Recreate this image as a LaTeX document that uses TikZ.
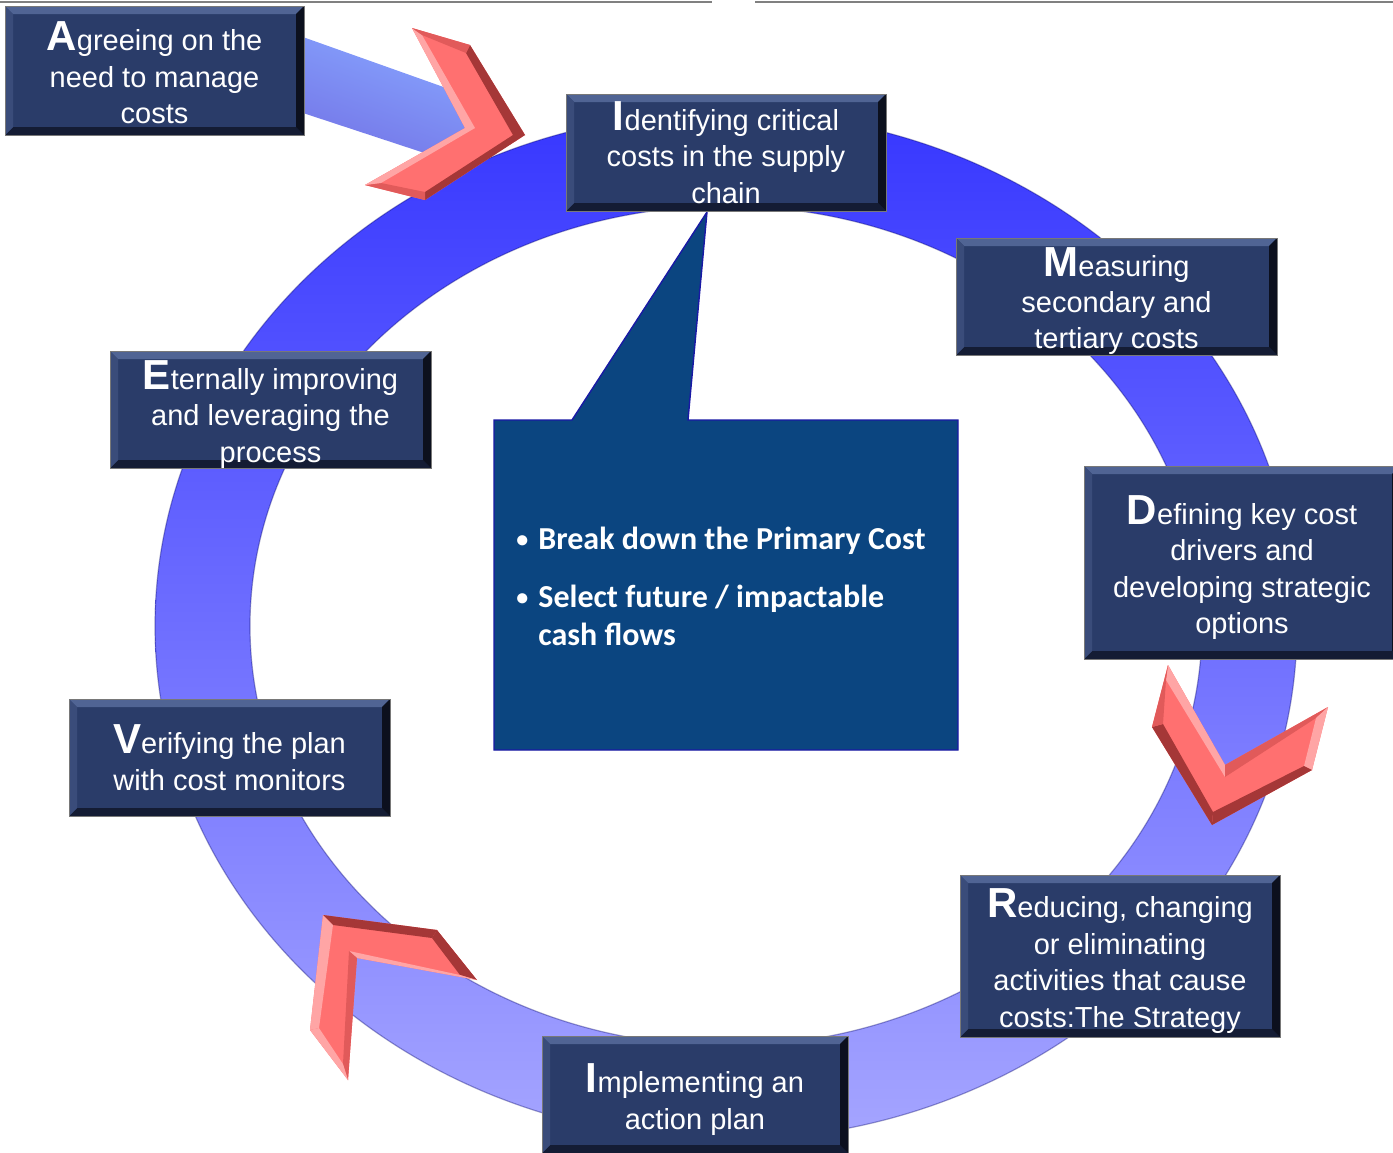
\documentclass[tikz,border=0pt]{standalone}
\usepackage{fontspec}
\setmainfont{Liberation Sans}
\newfontfamily\calib{Carlito}
\usetikzlibrary{calc}
\definecolor{navy}{RGB}{42,60,105}
\definecolor{bevT}{RGB}{80,100,148}
\definecolor{bevL}{RGB}{58,76,122}
\definecolor{bevR}{RGB}{12,16,30}
\definecolor{bevB}{RGB}{20,28,52}
\definecolor{boxedge}{RGB}{120,120,120}
\definecolor{ringtop}{RGB}{55,55,255}
\definecolor{ringmid}{RGB}{110,110,250}
\definecolor{ringbot}{RGB}{165,165,255}
\definecolor{bandA}{RGB}{135,165,255}
\definecolor{bandB}{RGB}{110,150,250}
\definecolor{bandC}{RGB}{115,115,230}
\definecolor{chevfill}{RGB}{255,112,112}
\definecolor{chevL}{RGB}{255,165,165}
\definecolor{chevM}{RGB}{225,90,90}
\definecolor{chevD}{RGB}{165,55,55}
\definecolor{callfill}{RGB}{11,69,128}
\definecolor{calledge}{RGB}{25,25,165}
\newcommand\capl[1]{{\fontsize{21}{18}\selectfont\bfseries #1}}
\newcommand\bul{\makebox[11pt][l]{\raisebox{0.6pt}{\fontsize{12}{12}\selectfont •}}}
\tikzset{
  bev/.style={
    path picture={
      \path (path picture bounding box.north west) coordinate (pnw)
            (path picture bounding box.north east) coordinate (pne)
            (path picture bounding box.south west) coordinate (psw)
            (path picture bounding box.south east) coordinate (pse);
      \fill[bevT] (pnw) -- (pne) -- ($(pne)+(-4pt,-4pt)$) -- ($(pnw)+(4pt,-4pt)$) -- cycle;
      \fill[bevB] (psw) -- (pse) -- ($(pse)+(-4pt,4pt)$) -- ($(psw)+(4pt,4pt)$) -- cycle;
      \fill[bevL] (pnw) -- (psw) -- ($(psw)+(4pt,4pt)$) -- ($(pnw)+(4pt,-4pt)$) -- cycle;
      \fill[bevR] (pne) -- (pse) -- ($(pse)+(-4pt,4pt)$) -- ($(pne)+(-4pt,-4pt)$) -- cycle;
    }},
  stepbox/.style={draw=boxedge, line width=0.5pt, fill=navy, inner sep=0pt, bev},
  steptext/.style={text=white, align=center, inner sep=0pt, font=\fontsize{14.5}{18.2}\selectfont},
  chevface/.style={fill=chevfill},
  chevlight/.style={fill=chevL},
  chevmid/.style={fill=chevM},
  chevdark/.style={fill=chevD},
  calltext/.style={text=white, inner sep=0pt, font=\calib\bfseries\fontsize{16}{19}\selectfont},
}
\begin{document}
\begin{tikzpicture}[x=0.5pt,y=-0.5pt]
\path[use as bounding box, fill=white] (0,0) rectangle (1393,1152);

% top rule
\draw[gray, line width=1.3pt] (0,2) -- (712,2);
\draw[gray, line width=1.3pt] (755,2) -- (1393,2);

% band from first box
\shade[top color=bandA, middle color=bandB, bottom color=bandC, shading angle=-20]
  (300,36) -- (480,100) -- (470,168) -- (300,112) -- cycle;

% ring
\shade[even odd rule, top color=ringtop, middle color=ringmid, bottom color=ringbot]
  (726,626) ellipse [x radius=285.5pt, y radius=257pt]
  (726,626) ellipse [x radius=238pt, y radius=210pt];
\draw[blue!40!black, opacity=0.35, line width=0.6pt]
  (726,626) ellipse [x radius=285.5pt, y radius=257pt];
\draw[blue!40!black, opacity=0.35, line width=0.6pt]
  (726,626) ellipse [x radius=238pt, y radius=210pt];

% chevron 1 (top, pointing right)
\fill[chevface] (470,45) -- (525,135) -- (425,200) -- (365,185) -- (465,128) -- (412,28) -- cycle;
\fill[chevdark] (470,45) -- (525,135) -- (513,135) -- (466,53) -- cycle;
\fill[chevdark] (525,135) -- (425,200) -- (425,192) -- (513,135) -- cycle;
\fill[chevmid] (425,200) -- (365,185) -- (381,183) -- (425,192) -- cycle;
\fill[chevlight] (365,185) -- (465,128) -- (475,128) -- (381,183) -- cycle;
\fill[chevlight] (465,128) -- (412,28) -- (422,35) -- (475,128) -- cycle;
\fill[chevmid] (412,28) -- (470,45) -- (466,53) -- (422,35) -- cycle;

% chevron 2 (right, pointing down)
\fill[chevface] (1168,665) -- (1225,765) -- (1328,707) -- (1312,770) -- (1212,825) -- (1152,727) -- cycle;
\fill[chevlight] (1168,665) -- (1225,765) -- (1225,777) -- (1166,680) -- cycle;
\fill[chevmid] (1225,765) -- (1328,707) -- (1316,718) -- (1225,777) -- cycle;
\fill[chevlight] (1328,707) -- (1312,770) -- (1304,766) -- (1316,718) -- cycle;
\fill[chevdark] (1312,770) -- (1212,825) -- (1213,812) -- (1304,766) -- cycle;
\fill[chevdark] (1212,825) -- (1152,727) -- (1163,724) -- (1213,812) -- cycle;
\fill[chevmid] (1152,727) -- (1168,665) -- (1166,680) -- (1163,724) -- cycle;

% chevron 3 (bottom left, pointing up-left)
\fill[chevface] (323,915) -- (437,930) -- (477,980) -- (357,958) -- (348,1080) -- (310,1030) -- cycle;
\fill[chevdark] (323,915) -- (437,930) -- (432,938) -- (333,925) -- cycle;
\fill[chevdark] (437,930) -- (477,980) -- (460,975) -- (432,938) -- cycle;
\fill[chevlight] (477,980) -- (357,958) -- (349,951) -- (460,975) -- cycle;
\fill[chevmid] (357,958) -- (348,1080) -- (343,1064) -- (349,951) -- cycle;
\fill[chevlight] (348,1080) -- (310,1030) -- (319,1028) -- (343,1064) -- cycle;
\fill[chevlight] (310,1030) -- (323,915) -- (333,925) -- (319,1028) -- cycle;

% callout
\filldraw[fill=callfill, draw=calledge, line width=0.7pt, line join=miter]
  (494,420) -- (572,420) -- (707,212) -- (688,420) -- (958,420) -- (958,750) -- (494,750) -- cycle;
\node[calltext, anchor=base west] (c1) at (516,549) {\bul Break down the Primary Cost};
\node[calltext, anchor=base west] (c2) at (516,607) {\bul Select future / impactable};
\node[calltext, anchor=base west] (c3) at (538,645) {cash flows};

% step boxes
\node[stepbox, minimum width=149.5pt, minimum height=64.5pt] (agree) at (154.5,70.5) {};
\node[steptext] (agreeT) at ([yshift=-1.2pt]agree.center)
  {\capl{A}greeing on the\\need to manage\\costs};
\node[stepbox, minimum width=160pt, minimum height=58.5pt] (ident) at (726,152.5) {};
\node[steptext] (identT) at ([yshift=0pt]ident.center)
  {\capl{I}dentifying critical\\costs in the supply\\chain};
\node[stepbox, minimum width=160.5pt, minimum height=58.5pt] (meas) at (1116.5,296.5) {};
\node[steptext] (measT) at ([yshift=-2.3pt]meas.center)
  {\capl{M}easuring\\secondary and\\tertiary costs};
\node[stepbox, minimum width=158pt, minimum height=96.5pt] (defn) at (1242,562.5) {};
\node[steptext] (defnT) at ([yshift=-2.5pt]defn.center)
  {\capl{D}efining key cost\\drivers and\\developing strategic\\options};
\node[stepbox, minimum width=160pt, minimum height=81pt] (redu) at (1120,956) {};
\node[steptext] (reduT) at ([yshift=-2.5pt]redu.center)
  {\capl{R}educing, changing\\or eliminating\\activities that cause\\costs:The Strategy};
\node[stepbox, minimum width=153pt, minimum height=58.5pt] (impl) at (695,1094.5) {};
\node[steptext] (implT) at ([yshift=-2.5pt]impl.center)
  {\capl{I}mplementing an\\action plan};
\node[stepbox, minimum width=160.5pt, minimum height=58.5pt] (veri) at (229.5,757.5) {};
\node[steptext] (veriT) at ([yshift=0pt]veri.center)
  {\capl{V}erifying the plan\\with cost monitors};
\node[stepbox, minimum width=160.5pt, minimum height=58.5pt] (eter) at (270.5,409.5) {};
\node[steptext] (eterT) at ([yshift=-2.5pt]eter.center)
  {\capl{E}ternally improving\\and leveraging the\\process};
\end{tikzpicture}
\end{document}
